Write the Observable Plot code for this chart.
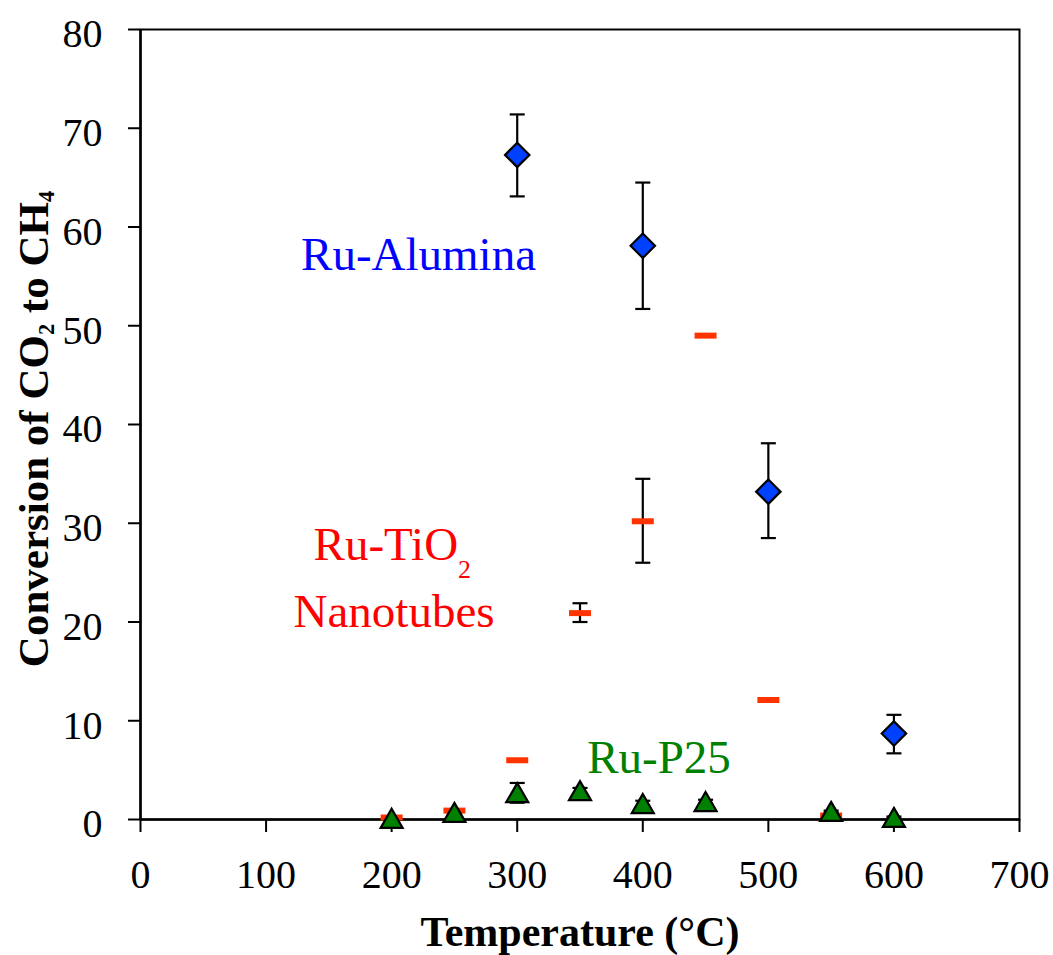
<!DOCTYPE html>
<html><head><meta charset="utf-8">
<script src="https://cdn.jsdelivr.net/npm/d3@7"></script>
<script src="https://cdn.jsdelivr.net/npm/@observablehq/plot@0.6"></script>
<style>body{margin:0;background:#fff} svg{display:block}</style>
</head><body><div id="chart"></div>
<script>
// Ru-Alumina (blue diamonds)
const aluminaT = [300, 400, 500, 600];
const aluminaConv = [67.3, 58.1, 33.2, 8.7];
const aluminaLow = [63.1, 51.7, 28.5, 6.7];
const aluminaHigh = [71.4, 64.5, 38.1, 10.6];

// Ru-TiO2 nanotubes (red dashes)
const tubesT = [200, 250, 300, 350, 400, 450, 500, 550];
const tubesConv = [0.2, 0.9, 6.0, 20.9, 30.2, 49.0, 12.1, 0.4];
const tubesErrT = [350, 400];
const tubesLow = [20.0, 26.0];
const tubesHigh = [21.9, 34.5];

// Ru-P25 (green triangles)
const p25T = [200, 250, 300, 350, 400, 450, 550, 600];
const p25Conv = [0.1, 0.7, 2.7, 2.9, 1.6, 1.8, 0.8, 0.2];
const p25Low = [0.0, 0.6, 1.7, 2.6, 1.3, 1.6, 0.7, 0.1];
const p25High = [0.2, 0.8, 3.7, 3.2, 1.9, 2.0, 0.9, 0.3];

// Axis ticks & titles
const xTicks = [0, 100, 200, 300, 400, 500, 600, 700];
const yTicks = [0, 10, 20, 30, 40, 50, 60, 70, 80];
const xTitle = "Temperature (°C)";
const yTitle = "Conversion of CO_2 to CH_4";

// Series labels (placed in data coordinates)
const labelText = ["Ru-Alumina", "Ru-TiO_2", "Nanotubes", "Ru-P25"];
const labelT = [221.4, 137.8, 201.9, 412.9];
const labelConv = [55.6, 26.3, 19.5, 4.7];
const labelColor = ["#0000ff", "#ff0000", "#ff0000", "#008000"];
const labelAnchor = ["middle", "start", "middle", "middle"];

const alumina = aluminaT.map((t, i) => ({t, v: aluminaConv[i], lo: aluminaLow[i], hi: aluminaHigh[i]}));
const tubes = tubesT.map((t, i) => ({t, v: tubesConv[i]}));
const tubesErr = tubesErrT.map((t, i) => ({t, lo: tubesLow[i], hi: tubesHigh[i]}));
const p25 = p25T.map((t, i) => ({t, v: p25Conv[i], lo: p25Low[i], hi: p25High[i]}));
const errs = [...alumina, ...tubesErr, ...p25];
const labels = labelText.map((s, i) => ({s, t: labelT[i], v: labelConv[i], c: labelColor[i], a: labelAnchor[i]}));

const dash = {draw(ctx) { ctx.moveTo(-11, -3); ctx.lineTo(11, -3); ctx.lineTo(11, 3); ctx.lineTo(-11, 3); ctx.closePath(); }};
const cap = {draw(ctx) { ctx.moveTo(-7.5, 0); ctx.lineTo(7.5, 0); }};

const chart = Plot.plot({
  width: 1053, height: 955,
  marginLeft: 140, marginRight: 34, marginTop: 29, marginBottom: 136,
  style: {fontFamily: "'Liberation Serif', 'Times New Roman', serif", color: "black", background: "white"},
  x: {domain: [0, 700], label: null},
  y: {domain: [0, 80], label: null},
  color: {type: "identity"},
  marks: [
    Plot.frame({stroke: "black", strokeWidth: 2}),
    Plot.ruleX([0], {stroke: "black", strokeWidth: 2.5}),
    Plot.ruleY([0], {stroke: "black", strokeWidth: 2.5}),
    Plot.axisX(xTicks, {tickSize: 13, tickPadding: 27, fontSize: 40, strokeWidth: 2, label: null}),
    Plot.axisY(yTicks, {tickSize: 12, strokeWidth: 2, tickFormat: () => "", label: null}),
    Plot.axisY(yTicks, {tickSize: 0, tickPadding: 38, fontSize: 40, dy: 5, label: null}),
    // error bars
    Plot.ruleX(errs, {x: "t", y1: "lo", y2: "hi", stroke: "black", strokeWidth: 2.2}),
    Plot.dot(errs, {x: "t", y: "lo", symbol: cap, r: 5, stroke: "black", strokeWidth: 2.2}),
    Plot.dot(errs, {x: "t", y: "hi", symbol: cap, r: 5, stroke: "black", strokeWidth: 2.2}),
    // markers
    Plot.dot(alumina, {x: "t", y: "v", symbol: "diamond2", r: 11, fill: "#0040ff", stroke: "black", strokeWidth: 2.2}),
    Plot.dot(tubes, {x: "t", y: "v", symbol: dash, r: 5, fill: "#ff3300", stroke: "none"}),
    Plot.dot(p25, {x: "t", y: "v", symbol: "triangle2", r: 10.5, dy: 3, fill: "#008000", stroke: "black", strokeWidth: 2.2}),
    // labels
    ...labels.map(d => Plot.text([d], {x: "t", y: "v", text: "s", fill: "c", textAnchor: d.a, lineAnchor: "bottom", fontSize: 47})),
    // axis titles
    Plot.text([xTitle], {frameAnchor: "bottom", textAnchor: "middle", lineAnchor: "bottom", dy: 126, fontSize: 42, fontWeight: "bold", fill: "black"}),
    Plot.text([yTitle], {frameAnchor: "left", textAnchor: "middle", rotate: -90, lineAnchor: "bottom", dx: -93, dy: 4.5, fontSize: 43, fontWeight: "bold", fill: "black"})
  ]
});

// render "_d" as a lowered, smaller digit (subscript)
function subscripts(svg) {
  d3.select(svg).selectAll("text").each(function() {
    const s = this.textContent;
    if (!s.includes("_")) return;
    const isTitle = s.includes("CH_4");
    const scale = isTitle ? "52%" : "55%";
    const shift = isTitle ? 6 : 18;
    const el = d3.select(this);
    el.text(null);
    const parts = s.split(/_(\d)/);
    let shifted = false;
    parts.forEach((p, i) => {
      if (!p) return;
      const ts = el.append("tspan").text(p);
      if (i % 2 === 1) {
        ts.attr("dy", shift).style("font-size", scale);
        shifted = true;
      } else if (shifted) {
        ts.attr("dy", -shift);
        shifted = false;
      }
    });
  });
}
subscripts(chart);

document.getElementById("chart").appendChild(chart);
</script>
</body></html>
